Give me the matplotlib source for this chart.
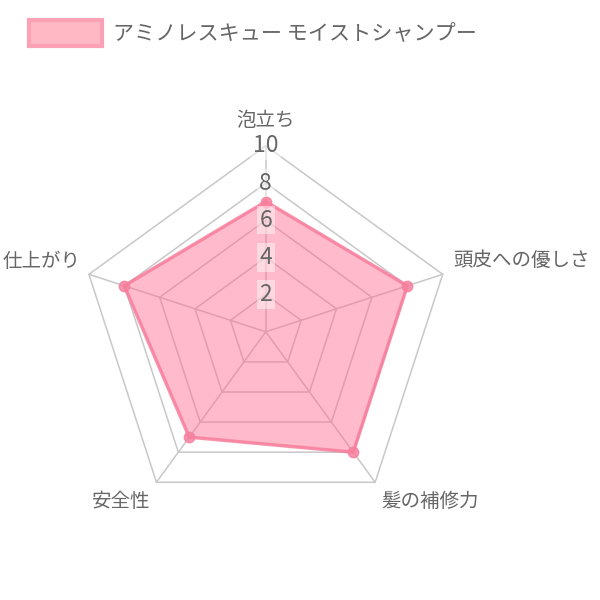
import matplotlib
matplotlib.use('Agg')
import matplotlib.pyplot as plt
import numpy as np
from matplotlib.patches import Patch

plt.rcParams['font.family'] = ['Noto Sans CJK JP', 'DejaVu Sans']

# データ
項目 = ['泡立ち', '頭皮への優しさ', '髪の補修力', '安全性', '仕上がり']
評価 = [7, 8, 8, 7, 8]
目盛り = [2, 4, 6, 8, 10]
製品名 = 'アミノレスキュー モイストシャンプー'

文字色 = '#666666'
塗り色 = (1.0, 0.42, 0.56, 0.46)
線色 = (0.97, 0.50, 0.62, 0.85)

n = len(項目)
角度 = np.linspace(0, 2 * np.pi, n, endpoint=False)
角度_閉 = np.append(角度, 角度[0])
評価_閉 = np.append(評価, 評価[0])

fig = plt.figure(figsize=(6, 6), dpi=100)
ax = fig.add_axes([0.133, 0.137, 0.62, 0.62], projection='polar')
ax.set_theta_offset(np.pi / 2)
ax.set_theta_direction(-1)
ax.set_ylim(0, 10)
ax.grid(False)
ax.spines['polar'].set_visible(False)
ax.set_xticks([])
ax.set_yticks([])
ax.patch.set_alpha(0)

# 五角形のグリッド
for r in 目盛り:
    ax.plot(角度_閉, [r] * (n + 1), color='#c8c8c8', lw=1.1, zorder=1, clip_on=False)
for a in 角度:
    ax.plot([a, a], [0, 10], color='#c8c8c8', lw=1.1, zorder=1, clip_on=False)

# データ
ax.fill(角度_閉, 評価_閉, color=塗り色, zorder=2, label=製品名)
ax.plot(角度_閉, 評価_閉, color=線色, lw=2.5, zorder=3)
ax.plot(角度, 評価, 'o', color=線色, ms=7.5, zorder=4)

# 目盛りラベル
for r in 目盛り:
    ax.text(0, r, str(r), ha='center', va='center', fontsize=16.5, color=文字色, zorder=5,
            bbox=dict(boxstyle='square,pad=0.12', fc=(1, 1, 1, 0.45), ec='none'))

# 項目ラベル
配置 = [('center', 'bottom', 10.8), ('left', 'bottom', 10.6), ('left', 'top', 10.6),
      ('right', 'top', 10.6), ('right', 'bottom', 10.45)]
for a, name, (ha, va, r) in zip(角度, 項目, 配置):
    ax.text(a, r, name, ha=ha, va=va, fontsize=14, color=文字色)

# 凡例
ハンドル = Patch(facecolor=(1.0, 0.72, 0.77), edgecolor=(0.98, 0.63, 0.71), lw=3)
fig.legend([ハンドル], [製品名], loc='center left', bbox_to_anchor=(0.03, 0.945),
           frameon=False, fontsize=15.2, labelcolor=文字色,
           handlelength=3.5, handleheight=1.5, handletextpad=0.5, borderpad=0)

fig.savefig('out.png', dpi=100)
